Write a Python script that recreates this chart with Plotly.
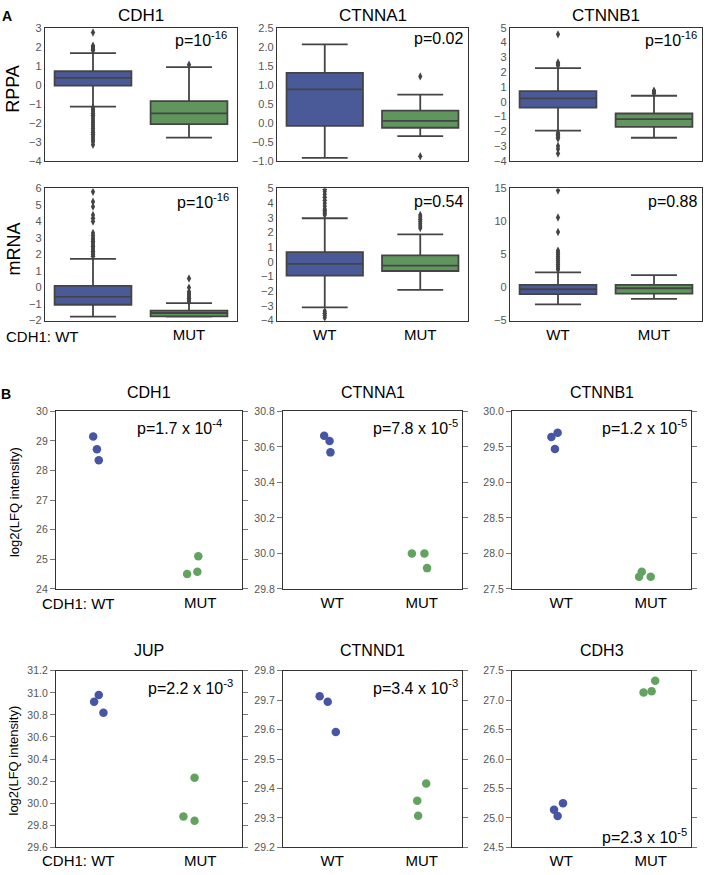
import plotly.graph_objects as go

W, H = 705, 875

# ---------------- Panel A data (box statistics) ----------------
genes_a = ["CDH1", "CTNNA1", "CTNNB1"]
group_ticks = ["WT", "MUT"]

# each entry: [WT, MUT]
rppa_q1 = [[-0.05, -2.07], [-0.08, -0.13], [-0.40, -1.71]]
rppa_median = [[0.36, -1.50], [0.88, 0.05], [0.22, -1.18]]
rppa_q3 = [[0.71, -0.86], [1.31, 0.32], [0.71, -0.80]]
rppa_lower = [[-1.15, -2.78], [-0.92, -0.35], [-1.96, -2.44]]
rppa_upper = [[1.66, 0.93], [2.06, 0.74], [2.27, 0.40]]
rppa_out_wt = [
    [2.75, 2.05, 2.0, 1.95, 1.9, 1.85, 1.8, -1.2, -1.3, -1.4, -1.5, -1.6, -1.7, -1.8, -1.9,
     -2.0, -2.1, -2.2, -2.3, -2.4, -2.5, -2.6, -2.7, -2.8, -2.9, -3.0, -3.15],
    [],
    [4.55, 2.65, 2.55, 2.45, -2.1, -2.2, -2.3, -2.4, -2.5, -3.0, -3.2, -3.5],
]
rppa_out_mut = [[1.05], [1.22, -0.88], [0.75, 0.65, 0.55]]
rppa_p = ["p=10<sup>-16</sup>", "p=0.02", "p=10<sup>-16</sup>"]
rppa_ranges = [[-4, 3], [-1, 2.5], [-4, 5]]
rppa_dticks = [1, 0.5, 1]

mrna_q1 = [[-1.04, -1.74], [-0.94, -0.62], [-1.00, -0.90]]
mrna_median = [[-0.56, -1.54], [-0.13, -0.26], [-0.25, -0.10]]
mrna_q3 = [[0.10, -1.40], [0.66, 0.44], [0.40, 0.40]]
mrna_lower = [[-1.76, -1.76], [-3.10, -1.91], [-2.55, -1.70]]
mrna_upper = [[1.74, -0.94], [2.97, 1.87], [2.30, 1.90]]
mrna_out_wt = [
    [5.8, 5.2, 4.9, 4.4, 4.2, 4.0, 3.3, 3.15, 3.0, 2.9, 2.8, 2.7, 2.6, 2.5, 2.4, 2.3,
     2.2, 2.1, 2.0, 1.9],
    [4.95, 4.8, 4.6, 4.4, 4.2, 4.0, 3.8, 3.6, 3.5, 3.4, 3.3, 3.2, -3.35, -3.5, -3.65, -3.8],
    [14.7, 10.6, 8.4, 5.6, 5.3, 5.0, 4.7, 4.4, 4.1, 3.8, 3.5, 3.2, 2.9, 2.7],
]
mrna_out_mut = [
    [0.55, 0.0, -0.25, -0.35, -0.45, -0.55, -0.65, -0.75, -0.85],
    [3.2, 3.05, 2.9, 2.75, 2.6, 2.45, 2.3],
    [],
]
mrna_p = ["p=10<sup>-16</sup>", "p=0.54", "p=0.88"]
mrna_ranges = [[-2, 6], [-4, 5], [-5, 15]]
mrna_dticks = [1, 1, 5]

# ---------------- Panel B data (LFQ intensities) ----------------
genes_b = ["CDH1", "CTNNA1", "CTNNB1", "JUP", "CTNND1", "CDH3"]
lfq_wt = [[29.15, 28.72, 28.35], [30.663, 30.633, 30.569], [29.64, 29.70, 29.47],
          [30.92, 30.98, 30.82], [29.713, 29.695, 29.592], [25.14, 25.03, 25.25]]
lfq_mut = [[24.50, 24.58, 25.10], [30.0, 30.0, 29.917], [27.67, 27.74, 27.67],
           [30.23, 29.88, 29.84], [29.417, 29.358, 29.307], [27.13, 27.15, 27.33]]
lfq_wt_jitter = [[-0.15, -0.11, -0.09], [-0.09, -0.03, -0.02], [-0.11, -0.04, -0.07],
                 [-0.14, -0.09, -0.04], [-0.14, -0.05, 0.04], [-0.08, -0.04, 0.02]]
lfq_mut_jitter = [[0.86, 0.97, 0.98], [0.89, 1.03, 1.06], [0.87, 0.90, 1.0],
                  [0.94, 0.82, 0.94], [1.05, 0.95, 0.96], [0.92, 1.01, 1.05]]
lfq_p = ["p=1.7 x 10<sup>-4</sup>", "p=7.8 x 10<sup>-5</sup>", "p=1.2 x 10<sup>-5</sup>",
         "p=2.2 x 10<sup>-3</sup>", "p=3.4 x 10<sup>-3</sup>", "p=2.3 x 10<sup>-5</sup>"]
lfq_ranges = [[24, 30], [29.8, 30.8], [27.5, 30.0], [29.6, 31.2], [29.2, 29.8], [24.5, 27.5]]
lfq_dticks = [1, 0.2, 0.5, 0.2, 0.1, 0.5]
lfq_formats = ["d", ".1f", ".1f", ".1f", ".1f", ".1f"]

# ---------------- styling ----------------
FONT = "Liberation Sans, Arial, Helvetica, sans-serif"
BOX_FILL = ["rgb(74,89,152)", "rgb(96,150,94)"]
PT_COL = ["rgb(70,86,165)", "rgb(98,163,96)"]
LINE = "#444444"
TICKCOL = "#555555"

fig = go.Figure()
layout = {}
annotations = []


def px_x(a, b):
    return [a / W, b / W]


def px_y(top, bottom):
    return [1 - bottom / H, 1 - top / H]


colx_a = [(45, 237), (277, 468), (510, 702)]
rowy_a = [(22, 157), (185, 319)]
colx_b = [(56, 242), (283, 462), (512, 691)]
rowy_b = [(411, 591), (674, 853)]

idx = 0


def axnames(i):
    s = "" if i == 1 else str(i)
    return "x" + s, "y" + s, "xaxis" + s, "yaxis" + s


# ---- Panel A ----
for r, (q1s, meds, q3s, los, his, owt, omut, ps, rngs, dts) in enumerate([
        (rppa_q1, rppa_median, rppa_q3, rppa_lower, rppa_upper, rppa_out_wt, rppa_out_mut,
         rppa_p, rppa_ranges, rppa_dticks),
        (mrna_q1, mrna_median, mrna_q3, mrna_lower, mrna_upper, mrna_out_wt, mrna_out_mut,
         mrna_p, mrna_ranges, mrna_dticks)]):
    for c in range(3):
        idx += 1
        xa, ya, xk, yk = axnames(idx)
        for g in range(2):
            fig.add_trace(go.Box(
                x=[g], q1=[q1s[c][g]], median=[meds[c][g]], q3=[q3s[c][g]],
                lowerfence=[los[c][g]], upperfence=[his[c][g]], orientation="v",
                width=0.8, whiskerwidth=0.6, fillcolor=BOX_FILL[g],
                line=dict(color=LINE, width=1.8), boxpoints=False,
                xaxis=xa, yaxis=ya, showlegend=False, hoverinfo="skip"))
            outs = owt[c] if g == 0 else omut[c]
            if outs:
                fig.add_trace(go.Scatter(
                    x=[g] * len(outs), y=outs, mode="markers",
                    marker=dict(symbol="diamond-tall", size=6, color=LINE),
                    xaxis=xa, yaxis=ya, showlegend=False, hoverinfo="skip"))
        layout[xk] = dict(domain=px_x(*colx_a[c]), anchor=ya, range=[-0.5, 1.5],
                          showline=True, mirror=True, linecolor="#333333", linewidth=1.3,
                          showgrid=False, zeroline=False, ticks="",
                          tickvals=([1] if c == 0 else [0, 1]),
                          ticktext=(["MUT"] if c == 0 else group_ticks),
                          showticklabels=(r == 1),
                          tickfont=dict(family=FONT, size=15, color="black"))
        layout[yk] = dict(domain=px_y(*rowy_a[r]), anchor=xa, range=rngs[c], dtick=dts[c],
                          tickformat=(".1f" if dts[c] < 1 else "d"),
                          showline=True, mirror=True, linecolor="#333333", linewidth=1.3,
                          showgrid=False, zeroline=False, ticks="",
                          tickfont=dict(family=FONT, size=11, color=TICKCOL))
        h = rowy_a[r][1] - rowy_a[r][0]
        pxoff = 8 if (r == 0 and c == 0) else (3 if c > 0 else 6)
        annotations.append(dict(
            text=ps[c], xref=xa + " domain", yref=ya + " domain",
            x=1 - pxoff / (colx_a[c][1] - colx_a[c][0]),
            y=1 - (11 if r == 0 else 13) / h, xanchor="right", yanchor="middle",
            showarrow=False, font=dict(family=FONT, size=16, color="black")))
        if r == 0:
            annotations.append(dict(
                text=genes_a[c], xref="paper", yref="paper",
                x=(colx_a[c][0] + colx_a[c][1]) / 2 / W, y=1 - 10 / H,
                xanchor="center", yanchor="middle", showarrow=False,
                font=dict(family=FONT, size=17, color="black")))

# ---- Panel B ----
for k in range(6):
    idx += 1
    xa, ya, xk, yk = axnames(idx)
    r, c = divmod(k, 3)
    for g, (vals, jit) in enumerate([(lfq_wt[k], lfq_wt_jitter[k]), (lfq_mut[k], lfq_mut_jitter[k])]):
        fig.add_trace(go.Scatter(
            x=jit, y=vals, mode="markers",
            marker=dict(size=8.5, color=PT_COL[g], line=dict(width=0)),
            xaxis=xa, yaxis=ya, showlegend=False, hoverinfo="skip"))
    layout[xk] = dict(domain=px_x(*colx_b[c]), anchor=ya, range=[-0.55, 1.45],
                      showline=True, mirror=True, linecolor="#333333", linewidth=1.2,
                      showgrid=False, zeroline=False, ticks="",
                      tickvals=([1] if c == 0 else [0, 1]),
                      ticktext=(["MUT"] if c == 0 else group_ticks),
                      tickfont=dict(family=FONT, size=15, color="black"))
    layout[yk] = dict(domain=px_y(*rowy_b[r]), anchor=xa, range=lfq_ranges[k],
                      dtick=lfq_dticks[k], tickformat=lfq_formats[k],
                      showline=True, mirror="ticks", linecolor="#333333", linewidth=1.2,
                      showgrid=False, zeroline=False, ticks="outside", ticklen=5,
                      tickwidth=1, tickcolor="#777777",
                      tickfont=dict(family=FONT, size=10.5, color=TICKCOL))
    h = rowy_b[r][1] - rowy_b[r][0]
    wpx = colx_b[c][1] - colx_b[c][0]
    pxoff = 18 if k == 0 else (7 if k == 3 else 2)
    bottom = (k == 5)
    annotations.append(dict(
        text=lfq_p[k], xref=xa + " domain", yref=ya + " domain",
        x=1 - pxoff / wpx, y=(11 / h if bottom else 1 - 16 / h),
        xanchor="right", yanchor="middle", showarrow=False,
        font=dict(family=FONT, size=16, color="black")))
    annotations.append(dict(
        text=genes_b[k], xref="paper", yref="paper",
        x=(colx_b[c][0] + colx_b[c][1]) / 2 / W,
        y=1 - (392 if r == 0 else 653) / H,
        xanchor="center", yanchor="middle", showarrow=False,
        font=dict(family=FONT, size=16, color="black")))

# ---- other labels ----
extra = [
    ("<b>A</b>", 7, 10, 14, 0),
    ("<b>B</b>", 6, 393, 14, 0),
    ("RPPA", 13, 84, 18, -90),
    ("mRNA", 14, 247, 18, -90),
    ("log2(LFQ intensity)", 14, 503, 13, -90),
    ("log2(LFQ intensity)", 14, 765, 13, -90),
    ("CDH1: WT", 42, 335, 15, 0),
    ("CDH1: WT", 78, 606, 15, 0),
    ("CDH1: WT", 78, 866, 15, 0),
]
for text, xp, yp, fs, ang in extra:
    annotations.append(dict(
        text=text, xref="paper", yref="paper", x=xp / W, y=1 - yp / H,
        xanchor="center", yanchor="middle", showarrow=False, textangle=ang,
        font=dict(family=FONT, size=fs, color="black")))

layout.update(dict(
    width=W, height=H, margin=dict(l=0, r=0, t=0, b=0),
    paper_bgcolor="white", plot_bgcolor="white",
    font=dict(family=FONT), annotations=annotations, showlegend=False))
fig.update_layout(**layout)

fig.write_html(
    "out.html",
    config={"displayModeBar": False},
    post_script="document.body.style.margin='0';document.body.style.padding='0';"
                "document.body.style.overflow='hidden';"
                "document.documentElement.style.overflow='hidden';")
